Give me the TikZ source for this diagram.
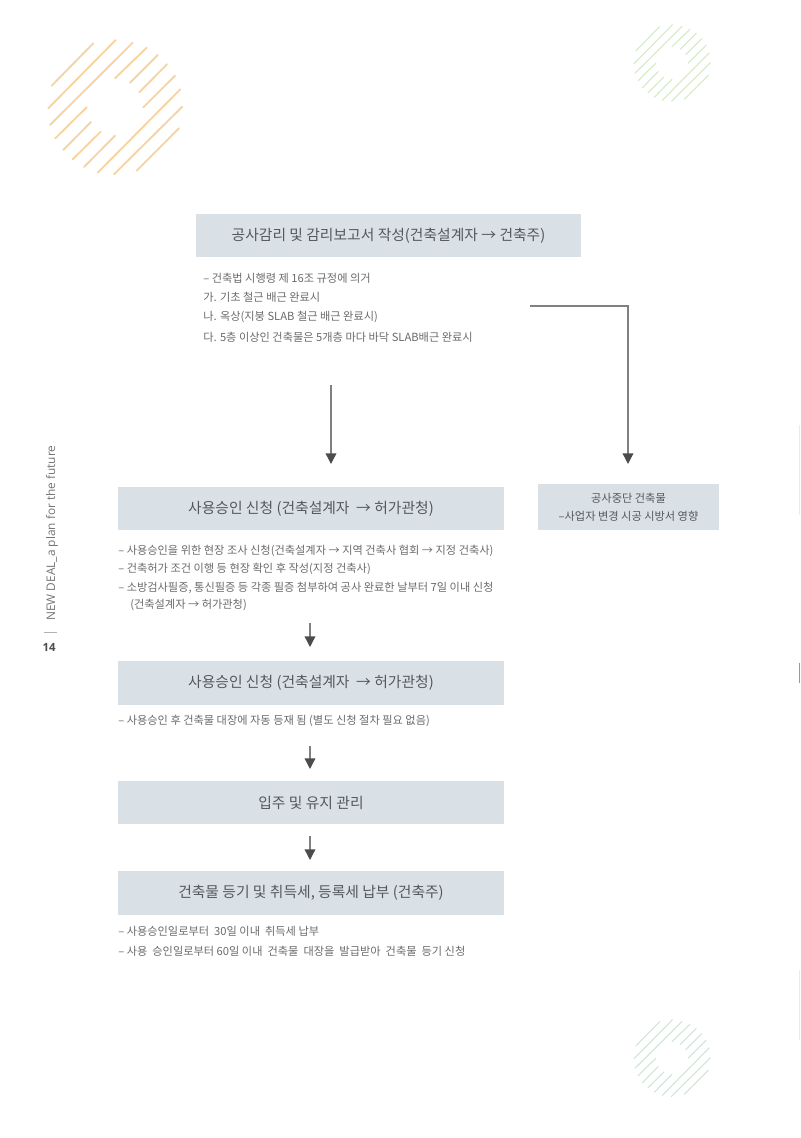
\documentclass[tikz,border=0pt]{standalone}
\usepackage{fontspec}
\setmainfont{Noto Sans CJK KR}
\newfontfamily\latinfont{Open Sans}
\usetikzlibrary{arrows.meta}
\definecolor{boxfill}{HTML}{D9E1E7}
\definecolor{boxtext}{HTML}{54585C}
\definecolor{listtext}{HTML}{6A6A6A}
\definecolor{stripeorange}{HTML}{F7D3A2}
\definecolor{stripegreen}{HTML}{D3EAC4}
\definecolor{stripesage}{HTML}{CFE4D6}
\newcommand{\stripes}[4]{%
\begin{scope}[shift={(#1,#2)},scale=#3,shift={(-115,-107)},draw=#4,line cap=round]
\foreach \xa/\ya/\xb/\yb in {51.7/85.7/93.3/43.3,48.3/108.3/115.7/40,50/125/132.7/42.7,115/78.3/146.7/47.7,130/82.7/157.7/55,139.3/92.3/167/64.3,143.3/107.3/175/75.7,97.7/172.7/180.3/89.3,114/174.3/182.3/106.7,136.7/170.7/179/128.3,55.3/138.3/86.7/107.3,63.3/150/91/122,72.7/159.3/100.7/131.7,84/167/115/135.7}
  \draw (\xa,\ya) -- (\xb,\yb);
\end{scope}}
\tikzset{
  head/.style={fill=boxfill,minimum height=32.5pt,inner sep=0pt,text=boxtext,font=\fontsize{11.1pt}{13pt}\selectfont},
  listline/.style={anchor=west,inner sep=0pt,text=listtext,font=\fontsize{8.4pt}{10pt}\selectfont},
  conn/.style={draw=black!50,line width=1.05pt,-{Triangle[length=8pt,width=8pt,color=black!70]}},
  connb/.style={draw=black!50,line width=1.05pt,-{Triangle[length=8pt,width=8pt,color=black!70]}}
}
\begin{document}
\begin{tikzpicture}[x=0.75pt,y=-0.75pt]
\useasboundingbox (0,0) rectangle (800,1138);
\begin{scope}[line width=1.4pt]\stripes{115}{107}{1}{stripeorange}\end{scope}
\begin{scope}[line width=0.8pt]\stripes{672}{63}{0.57}{stripegreen}\end{scope}
\begin{scope}[line width=0.8pt]\stripes{672}{1058}{0.57}{stripesage}\end{scope}

\node[head,minimum width=288.75pt] (top) at (388.5,235.5) {공사감리 및 감리보고서 작성(건축설계자 → 건축주)};
\node[listline] (t1) at (203,278) {– 건축법 시행령 제 16조 규정에 의거};
\node[listline] (t2) at (203,297) {가. 기초 철근 배근 완료시};
\node[listline] (t3) at (203,317) {나. 옥상(지붕 SLAB 철근 배근 완료시)};
\node[listline] (t4) at (203,337) {다. 5층 이상인 건축물은 5개층 마다 바닥 SLAB배근 완료시};

\node[head,minimum width=289.5pt] (b2) at (311,508.5) {사용승인 신청 (건축설계자 ~→ 허가관청)};
\node[listline] (l1) at (118,551) {– 사용승인을 위한 현장 조사 신청(건축설계자 → 지역 건축사 협회 → 지정 건축사)};
\node[listline] (l2) at (118,569) {– 건축허가 조건 이행 등 현장 확인 후 작성(지정 건축사)};
\node[listline] (l3) at (118,588) {– 소방검사필증, 통신필증 등 각종 필증 첨부하여 공사 완료한 날부터 7일 이내 신청};
\node[listline] (l4) at (130,605) {(건축설계자 → 허가관청)};

\node[head,minimum width=289.5pt] (b3) at (311,683) {사용승인 신청 (건축설계자 ~→ 허가관청)};
\node[listline] (m1) at (118,721) {– 사용승인 후 건축물 대장에 자동 등재 됨 (별도 신청 절차 필요 없음)};

\node[head,minimum width=289.5pt] (b4) at (311,802.5) {입주 및 유지 관리};
\node[head,minimum width=289.5pt] (b5) at (311,893) {건축물 등기 및 취득세, 등록세 납부 (건축주)};
\node[listline] (n1) at (118,931) {– 사용승인일로부터 ~30일 이내 ~취득세 납부};
\node[listline] (n2) at (118,951) {– 사용 ~승인일로부터 60일 이내 ~건축물 ~대장을 ~발급받아 ~건축물 ~등기 신청};

\node[fill=boxfill,minimum width=135.75pt,minimum height=34.5pt,inner sep=0pt,text=boxtext,align=center,font=\fontsize{8.4pt}{13.5pt}\selectfont] (side) at (628.5,507) {공사중단 건축물\\–사업자 변경 시공 시방서 영향};

\coordinate (a1s) at (331,385); \coordinate (a1e) at (331,464);
\coordinate (a2s) at (530,306); \coordinate (a2c) at (628,306); \coordinate (a2e) at (628,464);
\coordinate (a3s) at (310,623); \coordinate (a3e) at (310,647);
\coordinate (a4s) at (310,746); \coordinate (a4e) at (310,769);
\coordinate (a5s) at (310,836); \coordinate (a5e) at (310,860);
\draw[conn] (a1s) -- (a1e);
\draw[conn] (a2s) -- (a2c) -- (a2e);
\draw[connb] (a3s) -- (a3e);
\draw[connb] (a4s) -- (a4e);
\draw[connb] (a5s) -- (a5e);

\node[rotate=90,anchor=west,inner sep=0pt,text=black!55,font=\latinfont\fontsize{8.9pt}{10pt}\selectfont] (side label) at (52,621) {NEW DEAL\_a plan for the future};
\coordinate (tick a) at (44,632); \coordinate (tick b) at (57,632);
\draw[black!30,line width=0.5pt] (tick a) -- (tick b);
\node[inner sep=0pt,text=black!70,font=\latinfont\bfseries\fontsize{8.5pt}{9pt}\selectfont] (page) at (49,647) {14};

\fill[black!8] (798.5,425) rectangle (800,515);
\fill[black!40] (798.5,663) rectangle (800,683);
\fill[black!8] (798.5,970) rectangle (800,1040);
\end{tikzpicture}
\end{document}
